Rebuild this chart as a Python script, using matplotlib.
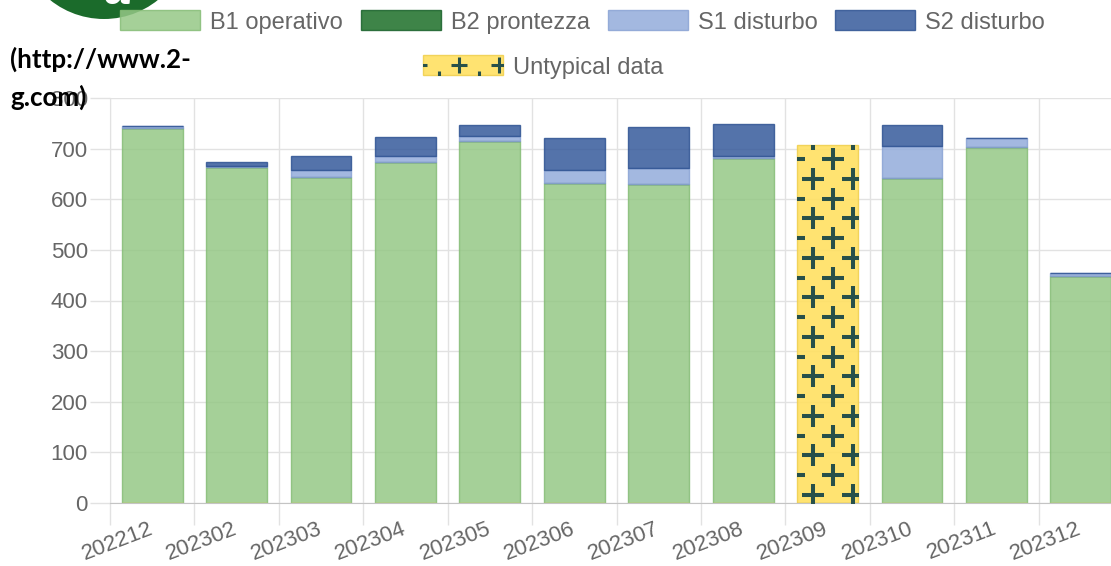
import numpy as np
import matplotlib.pyplot as plt
from matplotlib.patches import Rectangle, Circle
from matplotlib.lines import Line2D
from matplotlib.legend_handler import HandlerBase

# Data
months = ['202212', '202302', '202303', '202304', '202305', '202306',
          '202307', '202308', '202309', '202310', '202311', '202312']
b1_operativo = [740, 664, 644, 674, 716, 632, 631, 682, 0, 642, 703, 449]
b2_prontezza = [0, 0, 0, 0, 0, 0, 0, 0, 0, 0, 0, 0]
s1_disturbo = [5, 2, 14, 11, 8, 26, 31, 3, 0, 63, 18, 6]
s2_disturbo = [0, 7, 28, 38, 23, 63, 80, 63, 0, 41, 0, 0]
untypical = [0, 0, 0, 0, 0, 0, 0, 0, 708, 0, 0, 0]

series = [
    ("B1 operativo", b1_operativo, "#95C886", "#86bd77"),
    ("B2 prontezza", b2_prontezza, "#1C6F28", "#18612a"),
    ("S1 disturbo", s1_disturbo, "#93ACDB", "#8aa3d4"),
    ("S2 disturbo", s2_disturbo, "#365A9B", "#2f5393"),
]
yellow, yellow_edge = "#FFE062", "#f0d050"
plus_color = "#27504A"
text_gray = "#666666"
grid_gray = "#e2e2e2"

plt.rcParams['font.family'] = ['Liberation Sans', 'DejaVu Sans']

fig = plt.figure(figsize=(11.11, 5.66), dpi=100)
W, H = 1111, 566
ax = fig.add_axes([110 / W, (H - 503) / H, 1013 / W, 405 / H])

x = np.arange(len(months))
bottom = np.zeros(len(months))
handles = []
for name, vals, col, edge in series:
    bc = ax.bar(x, vals, width=0.72, bottom=bottom, color=col, edgecolor=edge,
                linewidth=1, alpha=0.85, label=name, zorder=2)
    handles.append(bc)
    bottom += np.array(vals)

ub = ax.bar(x, untypical, width=0.72, color=yellow, edgecolor=yellow_edge,
            linewidth=1, alpha=0.9, label="Untypical data", zorder=2)

ax.set_xlim(-0.5, len(months) - 0.5)
ax.set_ylim(0, 800)

# plus pattern inside the untypical bar
sx = ax.bbox.width / len(months)
sy = ax.bbox.height / 800
tile = 39.5
for rect, v in zip(ub.patches, untypical):
    if v <= 0:
        continue
    left = rect.get_x()
    px, py = [], []
    for col_off, row_off in [(16, 34), (36, 14.5)]:
        for k in range(-2, 4):
            for j in range(-1, int(v * sy / tile) + 2):
                px.append(left + (col_off + k * tile) / sx)
                py.append(v - (row_off + j * tile) / sy)
    ln, = ax.plot(px, py, ls='none', marker='+', ms=15.5, mew=2.9,
                  color=plus_color, zorder=3)
    ln.set_clip_path(rect)

# axes styling
ax.set_xticks(x)
ax.set_xticklabels(months, rotation=21, ha='right', rotation_mode='anchor',
                   va='center', color=text_gray, fontsize=16)
ax.set_xticks(np.arange(-0.5, len(months), 1), minor=True)
ax.tick_params(axis='x', which='major', length=0, pad=18)
ax.tick_params(axis='x', which='minor', length=16, color=grid_gray, width=1)
ax.grid(True, axis='x', which='minor', color=grid_gray, lw=1, zorder=0)

ax.set_yticks(np.arange(0, 801, 100))
ax.tick_params(axis='y', length=14.5, color=grid_gray, width=1, pad=1.5,
               labelcolor=text_gray, labelsize=16)
ax.grid(True, axis='y', which='major', color=grid_gray, lw=1, zorder=0)
ax.set_axisbelow(True)

for s in ['top', 'right']:
    ax.spines[s].set_visible(False)
ax.spines['left'].set_color(grid_gray)
ax.spines['bottom'].set_color('#c4c4c4')


class HandlerPlus(HandlerBase):
    def create_artists(self, legend, orig_handle, xdescent, ydescent,
                       width, height, fontsize, trans):
        r = Rectangle((-xdescent, -ydescent), width, height, facecolor=yellow,
                      edgecolor=yellow_edge, lw=1, alpha=0.9, transform=trans)
        pts = [(-0.06, 0.5), (0.45, 0.5), (0.95, 0.5), (0.2, -0.2), (0.7, -0.2)]
        xs = [-xdescent + fx * width for fx, fy in pts]
        ys = [-ydescent + fy * height for fx, fy in pts]
        l = Line2D(xs, ys, ls='none', marker='+', ms=11, mew=2.2,
                   color=plus_color, transform=trans)
        l.set_clip_path(r)
        return [r, l]


leg_kw = dict(frameon=False, fontsize=17, handlelength=3.39, handleheight=0.93,
              handletextpad=0.42, columnspacing=0.76, labelcolor=text_gray,
              borderpad=0, borderaxespad=0)
fig.legend(handles=handles, labels=[s[0] for s in series], ncol=4, loc='center',
           bbox_to_anchor=(582.5 / W, 1 - 22 / H), **leg_kw)
fig.legend(handles=[ub], labels=["Untypical data"], loc='center',
           bbox_to_anchor=(543.5 / W, 1 - 67 / H),
           handler_map={type(ub): HandlerPlus()}, **leg_kw)

# logo remnant and link text at top-left
fig.patches.append(Circle((1.04, 5.66 + 0.67), 0.86, transform=fig.dpi_scale_trans,
                          facecolor='#1B6B2B', edgecolor='none'))
fig.text(118 / W, 1 - 4 / H, 'a', color='white', fontsize=34, fontweight='bold',
         style='italic', ha='center', va='baseline')
fig.text(10 / W, 1 - 68 / H, '(http://www.2-', fontsize=18.7, fontweight='bold',
         family=['Lato', 'DejaVu Sans'], color='black', va='baseline')
fig.text(10 / W, 1 - 106 / H, 'g.com)', fontsize=18.7, fontweight='bold',
         family=['Lato', 'DejaVu Sans'], color='black', va='baseline')

fig.savefig('out.png', dpi=100)
